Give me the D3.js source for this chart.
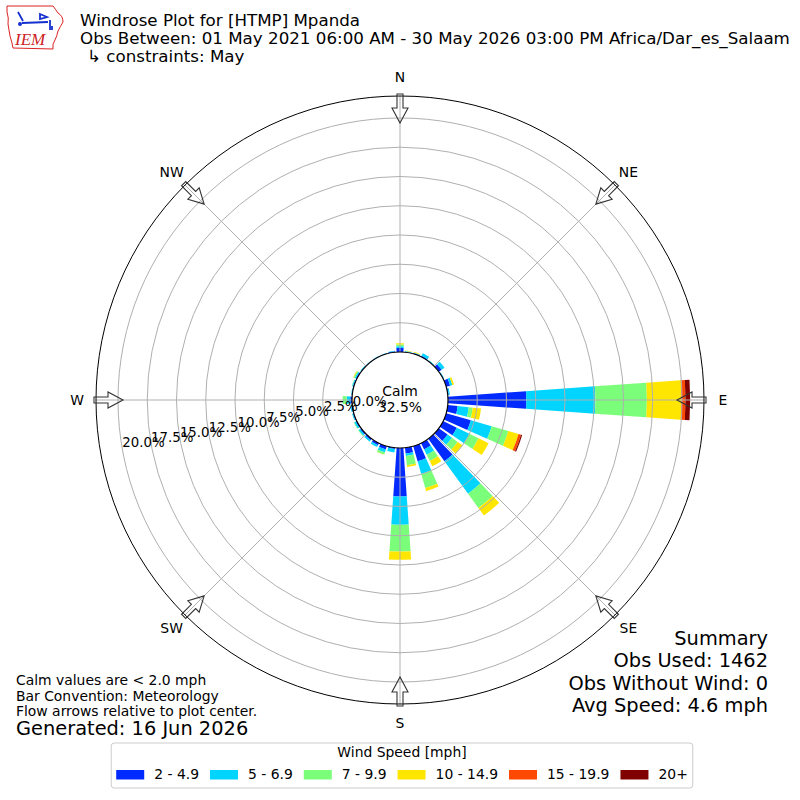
<!DOCTYPE html>
<html>
<head>
<meta charset="utf-8">
<script src="https://cdn.jsdelivr.net/npm/d3@7"></script>
<style>
  body { margin: 0; background: #fff; }
  svg { display: block; font-family: "DejaVu Sans", sans-serif; }
</style>
</head>
<body>
<div id="chart"></div>
<script>
// Windrose for [HTMP] Mpanda, May. Values are % of obs per 10 deg direction bin.
const directions = [0, 10, 20, 30, 40, 50, 60, 70, 80, 90, 100, 110, 120, 130, 140, 150, 160, 170,
  180, 190, 200, 210, 220, 230, 240, 250, 260, 270, 280, 290, 300, 310, 320, 330, 340, 350];

const speed2to5 = [0.35, 0.05, 0.08, 0.10, 0.05, 0.30, 0.05, 0.35, 0.08, 6.70, 0.85, 2.20, 1.30, 0.93, 2.36, 0.60, 1.35, 0.50,
  4.15, 0.10, 0.30, 0.20, 0.15, 0.12, 0.10, 0.08, 0.08, 0.15, 0.05, 0.08, 0.10, 0.05, 0.04, 0.04, 0.04, 0.08];
const speed5to7 = [0.15, 0.05, 0.05, 0.25, 0.05, 0.30, 0.05, 0.20, 0.10, 5.90, 0.95, 1.85, 1.20, 0.46, 3.44, 0.50, 1.13, 0.20,
  2.42, 0.30, 0.25, 0.17, 0.15, 0.15, 0.15, 0.08, 0.08, 0.30, 0.05, 0.08, 0.10, 0.05, 0.03, 0.03, 0.03, 0.05];
const speed7to10 = [0.15, 0, 0, 0, 0, 0, 0, 0, 0, 4.40, 0.35, 1.48, 0.87, 0.60, 1.50, 0.60, 1.25, 0.80,
  2.28, 0, 0.20, 0, 0, 0.05, 0.05, 0, 0, 0.35, 0, 0.03, 0.10, 0, 0, 0, 0, 0];
const speed10to15 = [0.10, 0.05, 0.05, 0, 0, 0, 0, 0.15, 0, 2.95, 0.71, 0.91, 0.95, 0.50, 0.80, 0.50, 0.27, 0.15,
  0.71, 0, 0.02, 0, 0, 0, 0, 0, 0, 0, 0, 0, 0.05, 0, 0, 0, 0, 0];
const speed15to20 = [0, 0, 0, 0, 0, 0, 0, 0, 0, 0.35, 0, 0.22, 0, 0, 0, 0, 0, 0,
  0, 0, 0, 0, 0, 0, 0, 0, 0, 0, 0, 0, 0, 0, 0, 0, 0, 0];
const speed20plus = [0, 0, 0, 0, 0, 0, 0, 0, 0, 0.40, 0, 0.10, 0, 0, 0, 0, 0, 0,
  0, 0, 0, 0, 0, 0, 0, 0, 0, 0, 0, 0, 0, 0, 0, 0, 0, 0];

const speedLabels = ['2 - 4.9', '5 - 6.9', '7 - 9.9', '10 - 14.9', '15 - 19.9', '20+'];
const speedColors = ['#002aff', '#00d4ff', '#7bff7b', '#ffe600', '#ff4800', '#800000'];

const rTicks = [0, 2.5, 5, 7.5, 10, 12.5, 15, 17.5, 20];
const compassLabels = ['N', 'NE', 'E', 'SE', 'S', 'SW', 'W', 'NW'];
const compassAngles = [0, 45, 90, 135, 180, 225, 270, 315];
const calmPct = 32.5;

const titleLines = ['Windrose Plot for [HTMP] Mpanda',
  'Obs Between: 01 May 2021 06:00 AM - 30 May 2026 03:00 PM Africa/Dar_es_Salaam'];
const constraintLine = '\u21b3 constraints: May';
const noteLines = ['Calm values are < 2.0 mph', 'Bar Convention: Meteorology', 'Flow arrows relative to plot center.'];
const generatedLine = 'Generated: 16 Jun 2026';
const summaryLines = ['Summary', 'Obs Used: 1462', 'Obs Without Wind: 0', 'Avg Speed: 4.6 mph'];

const W = 800, H = 800, cx = 400, cy = 400;
const rad = Math.PI / 180;
const series = [speed2to5, speed5to7, speed7to10, speed10to15, speed15to20, speed20plus];

const svg = d3.select('#chart').append('svg').attr('width', W).attr('height', H);

// radial scale: 0% sits on the calm circle
const r = d3.scaleLinear().domain([0, 21.88]).range([48, 304]);

const rows = directions.map((d, i) => {
  const o = { dir: d };
  series.forEach((s, k) => { o['b' + k] = s[i]; });
  return o;
});
const keys = series.map((s, k) => 'b' + k);
const stacked = d3.stack().keys(keys)(rows);

const plot = svg.append('g').attr('transform', `translate(${cx},${cy})`);
const halfW = 4 * rad; // bars fill 80% of each 10 deg bin

const arc = d3.arc()
  .innerRadius(d => r(d[0]))
  .outerRadius(d => r(d[1]))
  .startAngle(d => d.data.dir * rad - halfW)
  .endAngle(d => d.data.dir * rad + halfW);

plot.selectAll('g.layer')
  .data(stacked)
  .enter().append('g')
  .attr('class', 'layer')
  .attr('fill', (d, i) => speedColors[i])
  .selectAll('path')
  .data(d => d.filter(p => p[1] - p[0] > 0))
  .enter().append('path')
  .attr('d', arc);

// grid sits on top of the bars
const grid = plot.append('g').attr('fill', 'none').attr('stroke', '#b0b0b0').attr('stroke-width', 1);
grid.selectAll('circle')
  .data(rTicks.filter(t => t > 0))
  .enter().append('circle')
  .attr('r', d => r(d));
grid.selectAll('line')
  .data(compassAngles)
  .enter().append('line')
  .attr('x1', d => Math.sin(d * rad) * r(0))
  .attr('y1', d => -Math.cos(d * rad) * r(0))
  .attr('x2', d => Math.sin(d * rad) * r.range()[1])
  .attr('y2', d => -Math.cos(d * rad) * r.range()[1]);

plot.append('circle').attr('r', r.range()[1]).attr('fill', 'none').attr('stroke', '#000').attr('stroke-width', 1);

// calm circle
plot.append('circle').attr('r', r(0)).attr('fill', '#fff').attr('stroke', '#000').attr('stroke-width', 1.2);
plot.append('text').attr('x', 0).attr('y', -4).attr('text-anchor', 'middle')
  .attr('font-size', 13.9).text('Calm');
plot.append('text').attr('x', 0).attr('y', 12).attr('text-anchor', 'middle')
  .attr('font-size', 13.9).text(calmPct.toFixed(1) + '%');

// radial tick labels, 10 deg below west
const labAng = 10 * rad;
plot.append('g').selectAll('text')
  .data(rTicks)
  .enter().append('text')
  .attr('x', d => -Math.cos(labAng) * r(d))
  .attr('y', d => Math.sin(labAng) * r(d) - 2)
  .attr('font-size', 13.3)
  .text(d => d.toFixed(1) + '%');

// flow arrows at the compass points
const arrowPts = [[0, -277], [8, -292], [3, -292], [3, -306], [-3, -306], [-3, -292], [-8, -292]];
plot.append('g').selectAll('path')
  .data(compassAngles)
  .enter().append('path')
  .attr('transform', d => `rotate(${d})`)
  .attr('d', d3.line()(arrowPts) + 'Z')
  .attr('fill', 'none')
  .attr('stroke', '#333')
  .attr('stroke-width', 1.1);

plot.append('g').selectAll('text')
  .data(compassLabels)
  .enter().append('text')
  .attr('x', (d, i) => Math.sin(compassAngles[i] * rad) * 323)
  .attr('y', (d, i) => -Math.cos(compassAngles[i] * rad) * 323)
  .attr('text-anchor', 'middle')
  .attr('dominant-baseline', 'central')
  .attr('font-size', 13.9)
  .text(d => d);

// header
const head = svg.append('g');
titleLines.forEach((t, i) => {
  head.append('text').attr('x', 80).attr('y', 25.5 + i * 18).attr('font-size', 16.7).text(t);
});
head.append('text').attr('x', 87).attr('y', 61.5).attr('font-size', 16.7).text(constraintLine);

// rough IEM logo
const logo = svg.append('g');
logo.append('path')
  .attr('d', 'M7,6 L53,6 Q56,10 58,13 Q63,16 63,22 Q60,27 58,31 Q57,36 55,40 Q52,44 53,49 L13,48 Q12,42 10,36 Q9,30 8,24 Q9,18 7,12 Z')
  .attr('fill', 'none').attr('stroke', '#d22').attr('stroke-width', 1);
logo.append('path')
  .attr('d', 'M18,12 L23,21 M22,23 L48,22 M40,14 L47,17 L40,19 Z M50,20 L50,30 M52,26 L52,30')
  .attr('fill', 'none').attr('stroke', '#1530d0').attr('stroke-width', 1.8);
logo.append('circle').attr('cx', 20).attr('cy', 24).attr('r', 2).attr('fill', '#1530d0');
logo.append('text').attr('x', 15).attr('y', 45).attr('font-family', '"Liberation Serif", serif')
  .attr('font-style', 'italic').attr('font-size', 17).attr('fill', '#c22').text('IEM');

// footer notes
noteLines.forEach((t, i) => {
  svg.append('text').attr('x', 16).attr('y', 685 + i * 15.7).attr('font-size', 13.9).text(t);
});
svg.append('text').attr('x', 16).attr('y', 735).attr('font-size', 19.4).text(generatedLine);

summaryLines.forEach((t, i) => {
  svg.append('text').attr('x', 768).attr('y', 645 + i * 22.3).attr('text-anchor', 'end')
    .attr('font-size', 19.4).text(t);
});

// legend
const fs = 13.9;
const handleLen = 28, textPad = 10, colSpace = 11, pad = 5;
const leg = svg.append('g');
const box = leg.append('rect').attr('fill', '#fff').attr('stroke', '#cccccc').attr('stroke-width', 1).attr('rx', 3);
const items = leg.selectAll('g.item').data(speedLabels).enter().append('g').attr('class', 'item');
items.append('rect').attr('width', handleLen).attr('height', 9.5).attr('y', 770)
  .attr('fill', (d, i) => speedColors[i]);
const labels = items.append('text').attr('y', 779).attr('font-size', fs).text(d => d);
const widths = labels.nodes().map(n => n.getComputedTextLength());
const total = d3.sum(widths) + speedLabels.length * (handleLen + textPad) + (speedLabels.length - 1) * colSpace;
let x0 = cx + 2 - total / 2;
items.each(function (d, i) {
  d3.select(this).attr('transform', `translate(${x0},0)`);
  d3.select(this).select('text').attr('x', handleLen + textPad);
  x0 += handleLen + textPad + widths[i] + colSpace;
});
box.attr('x', cx + 2 - total / 2 - pad).attr('y', 743).attr('width', total + 2 * pad).attr('height', 45);
leg.append('text').attr('x', cx + 2).attr('y', 757).attr('text-anchor', 'middle').attr('font-size', fs)
  .text('Wind Speed [mph]');
</script>
</body>
</html>
